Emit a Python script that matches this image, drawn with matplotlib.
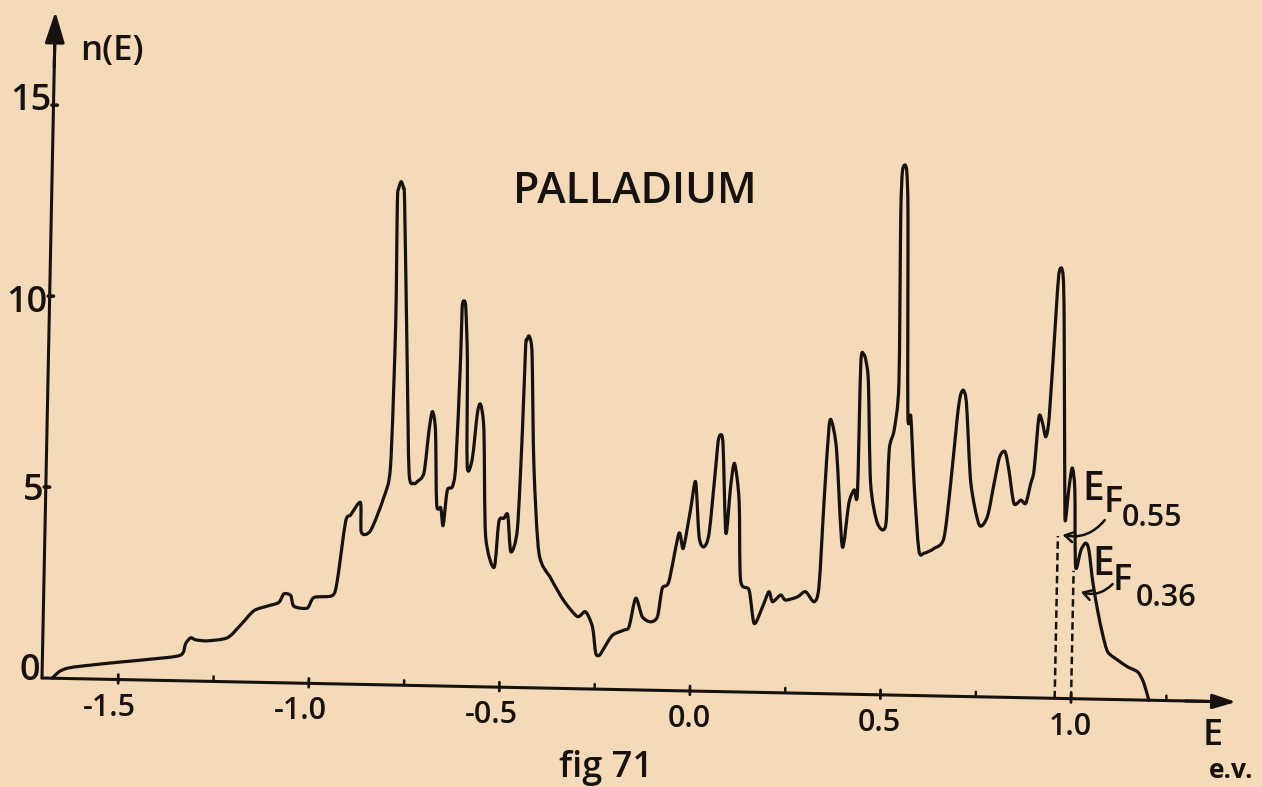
import matplotlib
matplotlib.use("Agg")
import numpy as np
import matplotlib.pyplot as plt
from matplotlib.transforms import Affine2D
from matplotlib.path import Path
from matplotlib.patches import PathPatch

# Density of states n(E) of palladium, energy in eV
energy = [
    -1.673, -1.656, -1.634, -1.591, -1.503, -1.416, -1.338, -1.325, -1.312, -1.299,
    -1.268, -1.216, -1.182, -1.148, -1.113, -1.083, -1.070, -1.052, -1.043, -1.008,
    -0.991, -0.943, -0.931, -0.912, -0.899, -0.874, -0.870, -0.846, -0.813, -0.797,
    -0.791, -0.793, -0.790, -0.784, -0.778, -0.774, -0.759, -0.748, -0.735, -0.726,
    -0.709, -0.698, -0.690, -0.681, -0.674, -0.663, -0.656, -0.647, -0.634, -0.626,
    -0.619, -0.6175, -0.613, -0.608, -0.601, -0.596, -0.583, -0.572, -0.564, -0.554,
    -0.544, -0.520, -0.510, -0.497, -0.487, -0.477, -0.461, -0.453, -0.449, -0.446,
    -0.441, -0.435, -0.431, -0.421, -0.403, -0.371, -0.335, -0.299, -0.278, -0.259,
    -0.249, -0.239, -0.228, -0.206, -0.176, -0.163, -0.147, -0.129, -0.107, -0.089,
    -0.078, -0.061, -0.037, -0.025, -0.008, 0.004, 0.016, 0.029, 0.042, 0.056,
    0.061, 0.067, 0.074, 0.086, 0.096, 0.105, 0.119, 0.127, 0.150, 0.165,
    0.186, 0.202, 0.212, 0.233, 0.246, 0.277, 0.298, 0.321, 0.333, 0.342,
    0.351, 0.358, 0.372, 0.392, 0.407, 0.420, 0.429, 0.431, 0.439, 0.445,
    0.452, 0.463, 0.483, 0.505, 0.510, 0.522, 0.532, 0.528, 0.530, 0.537,
    0.542, 0.547, 0.557, 0.565, 0.577, 0.593, 0.607, 0.633, 0.658, 0.673,
    0.687, 0.6935, 0.701, 0.708, 0.713, 0.726, 0.750, 0.771, 0.787, 0.800,
    0.814, 0.825, 0.840, 0.858, 0.871, 0.883, 0.891, 0.901, 0.911, 0.920,
    0.928, 0.940, 0.9455, 0.952, 0.9575, 0.962, 0.972, 0.9755, 0.983, 0.991,
    0.999, 1.005, 1.018, 1.030, 1.039, 1.051, 1.066, 1.080, 1.094, 1.121,
    1.147, 1.174, 1.190, 1.204,
]
dos = [
    0.00, 0.17, 0.27, 0.34, 0.45, 0.55, 0.67, 0.98, 1.13, 1.08,
    1.06, 1.15, 1.49, 1.87, 2.00, 2.10, 2.33, 2.29, 2.01, 1.97,
    2.25, 2.31, 2.68, 4.25, 4.43, 4.76, 3.98, 4.03, 4.91, 5.74,
    9.42, 12.63, 13.01, 13.18, 13.02, 12.64, 8.50, 5.56, 5.29, 5.34,
    5.57, 6.68, 7.18, 6.68, 4.75, 4.66, 4.20, 5.12, 5.22, 5.77,
    8.53, 9.91, 10.09, 9.91, 8.53, 5.78, 5.96, 7.16, 7.39, 6.71,
    3.95, 3.13, 4.33, 4.42, 4.51, 3.55, 4.15, 6.73, 8.93, 9.10,
    9.21, 9.05, 8.57, 5.81, 3.52, 2.88, 2.29, 1.89, 2.02, 1.63,
    0.94, 0.89, 1.07, 1.42, 1.56, 1.65, 2.40, 1.92, 1.79, 1.93,
    2.67, 2.85, 4.12, 3.73, 4.74, 5.48, 4.04, 3.78, 4.14, 5.88,
    6.56, 6.72, 6.46, 4.15, 5.37, 5.98, 5.02, 2.93, 2.67, 1.80,
    2.24, 2.64, 2.38, 2.56, 2.43, 2.52, 2.66, 2.40, 2.80, 5.07,
    6.99, 7.12, 6.38, 3.86, 5.00, 5.35, 5.26, 8.67, 8.89, 8.70,
    8.15, 5.53, 4.49, 4.45, 6.41, 6.94, 8.16, 12.53, 13.70, 13.88,
    13.65, 12.53, 7.38, 7.30, 5.55, 3.81, 3.73, 3.86, 4.13, 5.57,
    7.32, 7.86, 8.02, 7.84, 7.32, 5.58, 4.50, 4.72, 5.60, 6.29,
    6.43, 5.95, 5.08, 5.17, 5.09, 5.61, 5.96, 7.36, 7.19, 6.84,
    7.37, 9.99, 11.08, 11.27, 11.01, 9.91, 5.72, 4.65, 5.46, 6.04,
    5.46, 3.45, 3.89, 4.08, 3.90, 3.06, 2.28, 1.68, 1.24, 1.03,
    0.86, 0.73, 0.45, 0.00,
]

x_major = [-1.5, -1.0, -0.5, 0.0, 0.5, 1.0]
x_major_labels = ["-1.5", "-1.0", "-0.5", "0.0", "0.5", "1.0"]
x_minor = [-1.25, -0.75, -0.25, 0.25, 0.75, 1.25]
y_major = [0, 5, 10, 15]
y_major_labels = ["0", "5", "10", "15"]

# Fermi levels for the two electron concentrations
fermi_energy = [0.957, 1.0]
fermi_top = [4.25, 3.35]
fermi_tags = ["0.55", "0.36"]

PAPER = "#f4dab8"
INK = "#17120e"
FONT = ["Open Sans", "DejaVu Sans"]
WEIGHT = "semibold"

E_MIN, E_MAX = -1.70, 1.50
N_MIN, N_MAX = 0.0, 17.5
PX_E, PX_N = 381.2, 38.2          # pixels per eV and per state
FIG_W, FIG_H = 1262, 787
LEFT, BOTTOM = 42, 109
TILT = -1.15                      # the whole sheet sits slightly rotated

fig = plt.figure(figsize=(FIG_W / 100, FIG_H / 100), dpi=100, facecolor=PAPER)
ax = fig.add_axes([LEFT / FIG_W, BOTTOM / FIG_H,
                   (E_MAX - E_MIN) * PX_E / FIG_W, (N_MAX - N_MIN) * PX_N / FIG_H])
ax.set_xlim(E_MIN, E_MAX)
ax.set_ylim(N_MIN, N_MAX)
ax.axis("off")

px, py = ax.transData.transform((E_MIN, 0.0))
tr = ax.transData + Affine2D().rotate_deg_around(px, py, TILT)

line_kw = dict(color=INK, transform=tr, clip_on=False,
               solid_joinstyle="round", solid_capstyle="round")
text_kw = dict(transform=tr, color=INK, family=FONT, fontweight=WEIGHT, va="baseline")


def pen_stroke(xs, ys, k=0.13):
    """Bezier path through every point, like a pen following the trace."""
    pts = np.column_stack([xs, ys])
    last = len(pts) - 1
    verts, codes = [pts[0]], [Path.MOVETO]
    for i in range(last):
        p0, p1 = pts[max(i - 1, 0)], pts[i]
        p2, p3 = pts[i + 1], pts[min(i + 2, last)]
        verts += [p1 + (p2 - p0) * k, p2 - (p3 - p1) * k, p2]
        codes += [Path.CURVE4] * 3
    return Path(verts, codes)


# curve
ax.add_patch(PathPatch(pen_stroke(energy, dos), fill=False, edgecolor=INK, lw=2.3,
                       transform=tr, clip_on=False, joinstyle="round", capstyle="round"))

# axes with arrow heads
ax.plot([E_MIN, 1.40], [0, 0], lw=2.2, **line_kw)
ax.plot([E_MIN, E_MIN], [0, 17.0], lw=2.2, **line_kw)
ax.annotate("", xy=(1.433, 0), xytext=(1.30, 0), xycoords=tr, textcoords=tr,
            arrowprops=dict(arrowstyle="-|>,head_length=0.7,head_width=0.22",
                            mutation_scale=20, color=INK, lw=2.2,
                            shrinkA=0, shrinkB=0))
ax.annotate("", xy=(E_MIN, 17.45), xytext=(E_MIN, 16.0), xycoords=tr, textcoords=tr,
            arrowprops=dict(arrowstyle="-|>,head_length=0.95,head_width=0.3",
                            mutation_scale=20, color=INK, lw=2.2,
                            shrinkA=0, shrinkB=0))

# ticks
for e in x_major:
    ax.plot([e, e], [-0.10, 0.13], lw=2.0, **line_kw)
for e in x_minor:
    ax.plot([e, e], [0.0, 0.13], lw=1.8, **line_kw)
for n in y_major[1:]:
    ax.plot([E_MIN - 0.004, E_MIN + 0.010], [n, n], lw=2.6, **line_kw)

# tick labels
for e, lab in zip(x_major, x_major_labels):
    shift = -0.02 if e < 0 else 0.0
    ax.text(e + shift, -0.95, lab, ha="center", fontsize=22, **text_kw)
y_base = {"0": -0.06, "5": 4.65, "10": 9.57, "15": 14.86}
for n, lab in zip(y_major, y_major_labels):
    ax.text(E_MIN - 0.006, y_base[lab], lab, ha="right", fontsize=26, **text_kw)

# axis names and titles
ax.text(-1.549, 16.21, "n(E)", ha="center", fontsize=25, **text_kw)
ax.text(1.373, -1.14, "E", ha="center", fontsize=26, **text_kw)
ax.text(1.423, -2.0, "e.v.", ha="center", fontsize=19,
        **{**text_kw, "fontweight": "bold"})
ax.text(-0.169, 12.75, "PALLADIUM", ha="center", fontsize=31, **text_kw)
ax.text(-0.2145, -2.29, "fig 71", ha="center", fontsize=26, **text_kw)

# Fermi levels: dashed verticals, arrows and labels
for ef, top in zip(fermi_energy, fermi_top):
    ax.plot([ef, ef], [0, top], lw=1.8, color=INK, transform=tr, clip_on=False,
            linestyle=(0, (3.0, 1.6)))

label_pos = [
    dict(E=(1.047, 5.21), F=(1.100, 4.91), sub=(1.202, 4.56),
         tip=(0.969, 4.28), tail=(1.079, 4.69)),
    dict(E=(1.079, 3.25), F=(1.129, 2.87), sub=(1.2455, 2.47),
         tip=(1.020, 2.80), tail=(1.103, 3.02)),
]
for tag, pos in zip(fermi_tags, label_pos):
    ax.text(*pos["E"], "E", ha="center", fontsize=28, **text_kw)
    ax.text(*pos["F"], "F", ha="center", fontsize=26, **text_kw)
    ax.text(*pos["sub"], tag, ha="center", fontsize=22, **text_kw)
    ax.annotate("", xy=pos["tip"], xytext=pos["tail"], xycoords=tr, textcoords=tr,
                arrowprops=dict(arrowstyle="->,head_length=0.3,head_width=0.18",
                                mutation_scale=20, connectionstyle="arc3,rad=-0.3",
                                color=INK, lw=1.8, shrinkA=0, shrinkB=0))

fig.savefig("out.png", dpi=100, facecolor=PAPER)
